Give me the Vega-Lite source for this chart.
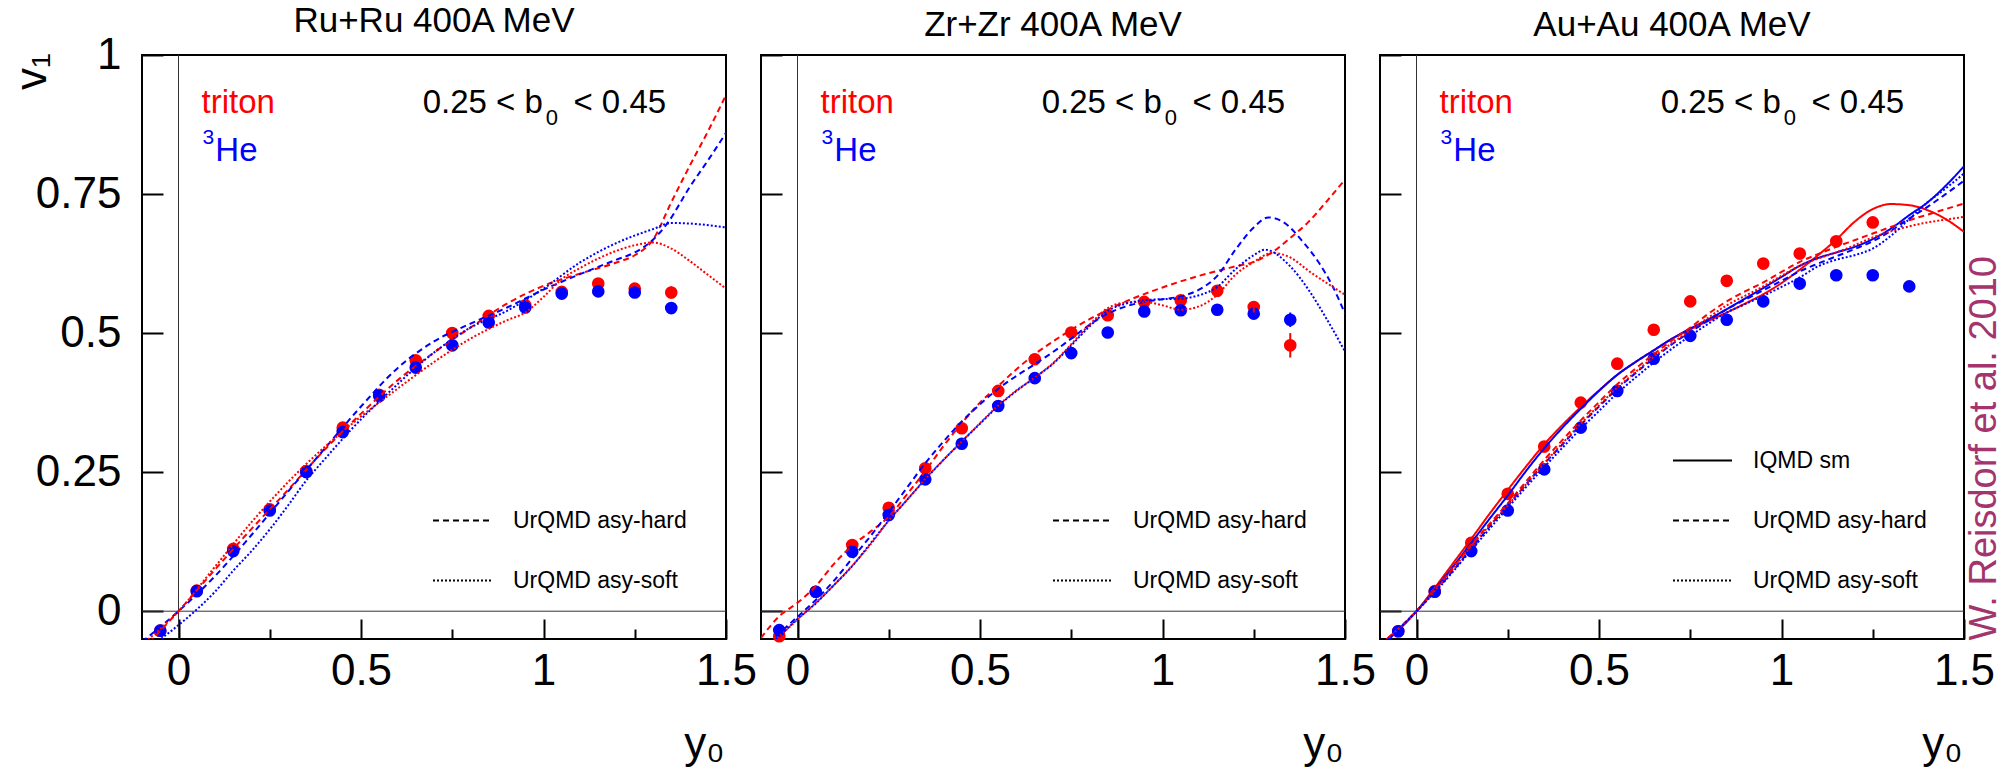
{
"$schema": "https://vega.github.io/schema/vega-lite/v6.json",
"background": "white",
"padding": {"left": 9, "top": 3, "right": 0, "bottom": 0},
"spacing": 35,
"bounds": "flush",
"datasets": {
"pts": [
{"sys":"Ru","ion":"triton","y0":-0.05,"v1":-0.035},{"sys":"Ru","ion":"triton","y0":0.05,"v1":0.037},{"sys":"Ru","ion":"triton","y0":0.15,"v1":0.112},{"sys":"Ru","ion":"triton","y0":0.25,"v1":0.183},{"sys":"Ru","ion":"triton","y0":0.35,"v1":0.252},{"sys":"Ru","ion":"triton","y0":0.45,"v1":0.33},{"sys":"Ru","ion":"triton","y0":0.55,"v1":0.389},{"sys":"Ru","ion":"triton","y0":0.65,"v1":0.451},{"sys":"Ru","ion":"triton","y0":0.75,"v1":0.5},{"sys":"Ru","ion":"triton","y0":0.85,"v1":0.531},{"sys":"Ru","ion":"triton","y0":0.95,"v1":0.55},{"sys":"Ru","ion":"triton","y0":1.05,"v1":0.574},{"sys":"Ru","ion":"triton","y0":1.15,"v1":0.589},{"sys":"Ru","ion":"triton","y0":1.25,"v1":0.58},{"sys":"Ru","ion":"triton","y0":1.35,"v1":0.573,"lo":0.562,"hi":0.584},
{"sys":"Ru","ion":"3He","y0":-0.05,"v1":-0.035},{"sys":"Ru","ion":"3He","y0":0.05,"v1":0.036},{"sys":"Ru","ion":"3He","y0":0.15,"v1":0.108},{"sys":"Ru","ion":"3He","y0":0.25,"v1":0.181},{"sys":"Ru","ion":"3He","y0":0.35,"v1":0.25},{"sys":"Ru","ion":"3He","y0":0.45,"v1":0.322},{"sys":"Ru","ion":"3He","y0":0.55,"v1":0.387},{"sys":"Ru","ion":"3He","y0":0.65,"v1":0.438},{"sys":"Ru","ion":"3He","y0":0.75,"v1":0.478},{"sys":"Ru","ion":"3He","y0":0.85,"v1":0.519},{"sys":"Ru","ion":"3He","y0":0.95,"v1":0.546},{"sys":"Ru","ion":"3He","y0":1.05,"v1":0.571},{"sys":"Ru","ion":"3He","y0":1.15,"v1":0.575},{"sys":"Ru","ion":"3He","y0":1.25,"v1":0.573},{"sys":"Ru","ion":"3He","y0":1.35,"v1":0.545,"lo":0.535,"hi":0.555},
{"sys":"Zr","ion":"triton","y0":-0.05,"v1":-0.045},{"sys":"Zr","ion":"triton","y0":0.05,"v1":0.035},{"sys":"Zr","ion":"triton","y0":0.15,"v1":0.119},{"sys":"Zr","ion":"triton","y0":0.25,"v1":0.186},{"sys":"Zr","ion":"triton","y0":0.35,"v1":0.257},{"sys":"Zr","ion":"triton","y0":0.45,"v1":0.329},{"sys":"Zr","ion":"triton","y0":0.55,"v1":0.396},{"sys":"Zr","ion":"triton","y0":0.65,"v1":0.453},{"sys":"Zr","ion":"triton","y0":0.75,"v1":0.501},{"sys":"Zr","ion":"triton","y0":0.85,"v1":0.532},{"sys":"Zr","ion":"triton","y0":0.95,"v1":0.556},{"sys":"Zr","ion":"triton","y0":1.05,"v1":0.559},{"sys":"Zr","ion":"triton","y0":1.15,"v1":0.576},{"sys":"Zr","ion":"triton","y0":1.25,"v1":0.547,"lo":0.537,"hi":0.557},{"sys":"Zr","ion":"triton","y0":1.35,"v1":0.478,"lo":0.456,"hi":0.5},
{"sys":"Zr","ion":"3He","y0":-0.05,"v1":-0.034},{"sys":"Zr","ion":"3He","y0":0.05,"v1":0.035},{"sys":"Zr","ion":"3He","y0":0.15,"v1":0.107},{"sys":"Zr","ion":"3He","y0":0.25,"v1":0.173},{"sys":"Zr","ion":"3He","y0":0.35,"v1":0.237},{"sys":"Zr","ion":"3He","y0":0.45,"v1":0.301},{"sys":"Zr","ion":"3He","y0":0.55,"v1":0.369},{"sys":"Zr","ion":"3He","y0":0.65,"v1":0.419},{"sys":"Zr","ion":"3He","y0":0.75,"v1":0.464},{"sys":"Zr","ion":"3He","y0":0.85,"v1":0.501},{"sys":"Zr","ion":"3He","y0":0.95,"v1":0.539},{"sys":"Zr","ion":"3He","y0":1.05,"v1":0.541},{"sys":"Zr","ion":"3He","y0":1.15,"v1":0.542},{"sys":"Zr","ion":"3He","y0":1.25,"v1":0.535},{"sys":"Zr","ion":"3He","y0":1.35,"v1":0.524,"lo":0.511,"hi":0.537},
{"sys":"Au","ion":"triton","y0":-0.05,"v1":-0.036},{"sys":"Au","ion":"triton","y0":0.05,"v1":0.036},{"sys":"Au","ion":"triton","y0":0.15,"v1":0.123},{"sys":"Au","ion":"triton","y0":0.25,"v1":0.211},{"sys":"Au","ion":"triton","y0":0.35,"v1":0.296},{"sys":"Au","ion":"triton","y0":0.45,"v1":0.375},{"sys":"Au","ion":"triton","y0":0.55,"v1":0.445},{"sys":"Au","ion":"triton","y0":0.65,"v1":0.506},{"sys":"Au","ion":"triton","y0":0.75,"v1":0.557},{"sys":"Au","ion":"triton","y0":0.85,"v1":0.594},{"sys":"Au","ion":"triton","y0":0.95,"v1":0.625},{"sys":"Au","ion":"triton","y0":1.05,"v1":0.643},{"sys":"Au","ion":"triton","y0":1.15,"v1":0.665},{"sys":"Au","ion":"triton","y0":1.25,"v1":0.699},
{"sys":"Au","ion":"3He","y0":-0.05,"v1":-0.036},{"sys":"Au","ion":"3He","y0":0.05,"v1":0.035},{"sys":"Au","ion":"3He","y0":0.15,"v1":0.108},{"sys":"Au","ion":"3He","y0":0.25,"v1":0.181},{"sys":"Au","ion":"3He","y0":0.35,"v1":0.255},{"sys":"Au","ion":"3He","y0":0.45,"v1":0.33},{"sys":"Au","ion":"3He","y0":0.55,"v1":0.396},{"sys":"Au","ion":"3He","y0":0.65,"v1":0.454},{"sys":"Au","ion":"3He","y0":0.75,"v1":0.495},{"sys":"Au","ion":"3He","y0":0.85,"v1":0.524},{"sys":"Au","ion":"3He","y0":0.95,"v1":0.557},{"sys":"Au","ion":"3He","y0":1.05,"v1":0.589},{"sys":"Au","ion":"3He","y0":1.15,"v1":0.604},{"sys":"Au","ion":"3He","y0":1.25,"v1":0.604},{"sys":"Au","ion":"3He","y0":1.35,"v1":0.584}
],
"crv": [
{"sys":"Ru","ion":"triton","model":"UrQMD asy-hard","y0":-0.1,"v1":-0.07},{"sys":"Ru","ion":"triton","model":"UrQMD asy-hard","y0":0,"v1":0},{"sys":"Ru","ion":"triton","model":"UrQMD asy-hard","y0":0.1,"v1":0.075},{"sys":"Ru","ion":"triton","model":"UrQMD asy-hard","y0":0.2,"v1":0.148},{"sys":"Ru","ion":"triton","model":"UrQMD asy-hard","y0":0.3,"v1":0.218},{"sys":"Ru","ion":"triton","model":"UrQMD asy-hard","y0":0.4,"v1":0.29},{"sys":"Ru","ion":"triton","model":"UrQMD asy-hard","y0":0.5,"v1":0.355},{"sys":"Ru","ion":"triton","model":"UrQMD asy-hard","y0":0.6,"v1":0.415},{"sys":"Ru","ion":"triton","model":"UrQMD asy-hard","y0":0.7,"v1":0.465},{"sys":"Ru","ion":"triton","model":"UrQMD asy-hard","y0":0.8,"v1":0.51},{"sys":"Ru","ion":"triton","model":"UrQMD asy-hard","y0":0.9,"v1":0.553},{"sys":"Ru","ion":"triton","model":"UrQMD asy-hard","y0":1.0,"v1":0.585},{"sys":"Ru","ion":"triton","model":"UrQMD asy-hard","y0":1.1,"v1":0.607},{"sys":"Ru","ion":"triton","model":"UrQMD asy-hard","y0":1.2,"v1":0.627},{"sys":"Ru","ion":"triton","model":"UrQMD asy-hard","y0":1.25,"v1":0.64},{"sys":"Ru","ion":"triton","model":"UrQMD asy-hard","y0":1.3,"v1":0.668},{"sys":"Ru","ion":"triton","model":"UrQMD asy-hard","y0":1.35,"v1":0.735},{"sys":"Ru","ion":"triton","model":"UrQMD asy-hard","y0":1.4,"v1":0.8},{"sys":"Ru","ion":"triton","model":"UrQMD asy-hard","y0":1.45,"v1":0.862},{"sys":"Ru","ion":"triton","model":"UrQMD asy-hard","y0":1.5,"v1":0.928},
{"sys":"Ru","ion":"3He","model":"UrQMD asy-hard","y0":-0.1,"v1":-0.055},{"sys":"Ru","ion":"3He","model":"UrQMD asy-hard","y0":0,"v1":0},{"sys":"Ru","ion":"3He","model":"UrQMD asy-hard","y0":0.1,"v1":0.063},{"sys":"Ru","ion":"3He","model":"UrQMD asy-hard","y0":0.2,"v1":0.137},{"sys":"Ru","ion":"3He","model":"UrQMD asy-hard","y0":0.3,"v1":0.215},{"sys":"Ru","ion":"3He","model":"UrQMD asy-hard","y0":0.4,"v1":0.292},{"sys":"Ru","ion":"3He","model":"UrQMD asy-hard","y0":0.5,"v1":0.368},{"sys":"Ru","ion":"3He","model":"UrQMD asy-hard","y0":0.6,"v1":0.437},{"sys":"Ru","ion":"3He","model":"UrQMD asy-hard","y0":0.7,"v1":0.485},{"sys":"Ru","ion":"3He","model":"UrQMD asy-hard","y0":0.8,"v1":0.517},{"sys":"Ru","ion":"3He","model":"UrQMD asy-hard","y0":0.9,"v1":0.546},{"sys":"Ru","ion":"3He","model":"UrQMD asy-hard","y0":1.0,"v1":0.578},{"sys":"Ru","ion":"3He","model":"UrQMD asy-hard","y0":1.1,"v1":0.606},{"sys":"Ru","ion":"3He","model":"UrQMD asy-hard","y0":1.2,"v1":0.632},{"sys":"Ru","ion":"3He","model":"UrQMD asy-hard","y0":1.25,"v1":0.645},{"sys":"Ru","ion":"3He","model":"UrQMD asy-hard","y0":1.3,"v1":0.668},{"sys":"Ru","ion":"3He","model":"UrQMD asy-hard","y0":1.34,"v1":0.698},{"sys":"Ru","ion":"3He","model":"UrQMD asy-hard","y0":1.4,"v1":0.762},{"sys":"Ru","ion":"3He","model":"UrQMD asy-hard","y0":1.45,"v1":0.81},{"sys":"Ru","ion":"3He","model":"UrQMD asy-hard","y0":1.5,"v1":0.86},
{"sys":"Ru","ion":"triton","model":"UrQMD asy-soft","y0":-0.1,"v1":-0.06},{"sys":"Ru","ion":"triton","model":"UrQMD asy-soft","y0":0,"v1":0},{"sys":"Ru","ion":"triton","model":"UrQMD asy-soft","y0":0.1,"v1":0.08},{"sys":"Ru","ion":"triton","model":"UrQMD asy-soft","y0":0.2,"v1":0.16},{"sys":"Ru","ion":"triton","model":"UrQMD asy-soft","y0":0.3,"v1":0.232},{"sys":"Ru","ion":"triton","model":"UrQMD asy-soft","y0":0.4,"v1":0.295},{"sys":"Ru","ion":"triton","model":"UrQMD asy-soft","y0":0.5,"v1":0.35},{"sys":"Ru","ion":"triton","model":"UrQMD asy-soft","y0":0.6,"v1":0.4},{"sys":"Ru","ion":"triton","model":"UrQMD asy-soft","y0":0.7,"v1":0.448},{"sys":"Ru","ion":"triton","model":"UrQMD asy-soft","y0":0.8,"v1":0.49},{"sys":"Ru","ion":"triton","model":"UrQMD asy-soft","y0":0.9,"v1":0.523},{"sys":"Ru","ion":"triton","model":"UrQMD asy-soft","y0":0.95,"v1":0.537},{"sys":"Ru","ion":"triton","model":"UrQMD asy-soft","y0":1.0,"v1":0.565},{"sys":"Ru","ion":"triton","model":"UrQMD asy-soft","y0":1.05,"v1":0.597},{"sys":"Ru","ion":"triton","model":"UrQMD asy-soft","y0":1.1,"v1":0.617},{"sys":"Ru","ion":"triton","model":"UrQMD asy-soft","y0":1.15,"v1":0.634},{"sys":"Ru","ion":"triton","model":"UrQMD asy-soft","y0":1.2,"v1":0.648},{"sys":"Ru","ion":"triton","model":"UrQMD asy-soft","y0":1.25,"v1":0.658},{"sys":"Ru","ion":"triton","model":"UrQMD asy-soft","y0":1.3,"v1":0.663},{"sys":"Ru","ion":"triton","model":"UrQMD asy-soft","y0":1.35,"v1":0.652},{"sys":"Ru","ion":"triton","model":"UrQMD asy-soft","y0":1.4,"v1":0.63},{"sys":"Ru","ion":"triton","model":"UrQMD asy-soft","y0":1.45,"v1":0.605},{"sys":"Ru","ion":"triton","model":"UrQMD asy-soft","y0":1.5,"v1":0.58},
{"sys":"Ru","ion":"3He","model":"UrQMD asy-soft","y0":-0.1,"v1":-0.075},{"sys":"Ru","ion":"3He","model":"UrQMD asy-soft","y0":0,"v1":-0.025},{"sys":"Ru","ion":"3He","model":"UrQMD asy-soft","y0":0.05,"v1":0.003},{"sys":"Ru","ion":"3He","model":"UrQMD asy-soft","y0":0.1,"v1":0.035},{"sys":"Ru","ion":"3He","model":"UrQMD asy-soft","y0":0.15,"v1":0.073},{"sys":"Ru","ion":"3He","model":"UrQMD asy-soft","y0":0.2,"v1":0.108},{"sys":"Ru","ion":"3He","model":"UrQMD asy-soft","y0":0.25,"v1":0.147},{"sys":"Ru","ion":"3He","model":"UrQMD asy-soft","y0":0.3,"v1":0.19},{"sys":"Ru","ion":"3He","model":"UrQMD asy-soft","y0":0.35,"v1":0.235},{"sys":"Ru","ion":"3He","model":"UrQMD asy-soft","y0":0.4,"v1":0.273},{"sys":"Ru","ion":"3He","model":"UrQMD asy-soft","y0":0.45,"v1":0.31},{"sys":"Ru","ion":"3He","model":"UrQMD asy-soft","y0":0.5,"v1":0.345},{"sys":"Ru","ion":"3He","model":"UrQMD asy-soft","y0":0.55,"v1":0.377},{"sys":"Ru","ion":"3He","model":"UrQMD asy-soft","y0":0.6,"v1":0.408},{"sys":"Ru","ion":"3He","model":"UrQMD asy-soft","y0":0.65,"v1":0.438},{"sys":"Ru","ion":"3He","model":"UrQMD asy-soft","y0":0.7,"v1":0.465},{"sys":"Ru","ion":"3He","model":"UrQMD asy-soft","y0":0.8,"v1":0.51},{"sys":"Ru","ion":"3He","model":"UrQMD asy-soft","y0":0.9,"v1":0.54},{"sys":"Ru","ion":"3He","model":"UrQMD asy-soft","y0":1.0,"v1":0.58},{"sys":"Ru","ion":"3He","model":"UrQMD asy-soft","y0":1.1,"v1":0.627},{"sys":"Ru","ion":"3He","model":"UrQMD asy-soft","y0":1.2,"v1":0.662},{"sys":"Ru","ion":"3He","model":"UrQMD asy-soft","y0":1.3,"v1":0.687},{"sys":"Ru","ion":"3He","model":"UrQMD asy-soft","y0":1.35,"v1":0.698},{"sys":"Ru","ion":"3He","model":"UrQMD asy-soft","y0":1.4,"v1":0.697},{"sys":"Ru","ion":"3He","model":"UrQMD asy-soft","y0":1.5,"v1":0.69},
{"sys":"Zr","ion":"triton","model":"UrQMD asy-hard","y0":-0.1,"v1":-0.048},{"sys":"Zr","ion":"triton","model":"UrQMD asy-hard","y0":-0.05,"v1":-0.009},{"sys":"Zr","ion":"triton","model":"UrQMD asy-hard","y0":0,"v1":0.015},{"sys":"Zr","ion":"triton","model":"UrQMD asy-hard","y0":0.05,"v1":0.045},{"sys":"Zr","ion":"triton","model":"UrQMD asy-hard","y0":0.1,"v1":0.085},{"sys":"Zr","ion":"triton","model":"UrQMD asy-hard","y0":0.15,"v1":0.118},{"sys":"Zr","ion":"triton","model":"UrQMD asy-hard","y0":0.2,"v1":0.143},{"sys":"Zr","ion":"triton","model":"UrQMD asy-hard","y0":0.25,"v1":0.17},{"sys":"Zr","ion":"triton","model":"UrQMD asy-hard","y0":0.3,"v1":0.21},{"sys":"Zr","ion":"triton","model":"UrQMD asy-hard","y0":0.35,"v1":0.252},{"sys":"Zr","ion":"triton","model":"UrQMD asy-hard","y0":0.4,"v1":0.297},{"sys":"Zr","ion":"triton","model":"UrQMD asy-hard","y0":0.45,"v1":0.338},{"sys":"Zr","ion":"triton","model":"UrQMD asy-hard","y0":0.5,"v1":0.375},{"sys":"Zr","ion":"triton","model":"UrQMD asy-hard","y0":0.55,"v1":0.405},{"sys":"Zr","ion":"triton","model":"UrQMD asy-hard","y0":0.6,"v1":0.435},{"sys":"Zr","ion":"triton","model":"UrQMD asy-hard","y0":0.65,"v1":0.462},{"sys":"Zr","ion":"triton","model":"UrQMD asy-hard","y0":0.7,"v1":0.485},{"sys":"Zr","ion":"triton","model":"UrQMD asy-hard","y0":0.8,"v1":0.525},{"sys":"Zr","ion":"triton","model":"UrQMD asy-hard","y0":0.9,"v1":0.557},{"sys":"Zr","ion":"triton","model":"UrQMD asy-hard","y0":1.0,"v1":0.582},{"sys":"Zr","ion":"triton","model":"UrQMD asy-hard","y0":1.1,"v1":0.603},{"sys":"Zr","ion":"triton","model":"UrQMD asy-hard","y0":1.2,"v1":0.62},{"sys":"Zr","ion":"triton","model":"UrQMD asy-hard","y0":1.25,"v1":0.628},{"sys":"Zr","ion":"triton","model":"UrQMD asy-hard","y0":1.3,"v1":0.645},{"sys":"Zr","ion":"triton","model":"UrQMD asy-hard","y0":1.35,"v1":0.671},{"sys":"Zr","ion":"triton","model":"UrQMD asy-hard","y0":1.4,"v1":0.7},{"sys":"Zr","ion":"triton","model":"UrQMD asy-hard","y0":1.45,"v1":0.737},{"sys":"Zr","ion":"triton","model":"UrQMD asy-hard","y0":1.5,"v1":0.776},
{"sys":"Zr","ion":"3He","model":"UrQMD asy-hard","y0":-0.1,"v1":-0.07},{"sys":"Zr","ion":"3He","model":"UrQMD asy-hard","y0":-0.05,"v1":-0.04},{"sys":"Zr","ion":"3He","model":"UrQMD asy-hard","y0":0,"v1":-0.01},{"sys":"Zr","ion":"3He","model":"UrQMD asy-hard","y0":0.05,"v1":0.02},{"sys":"Zr","ion":"3He","model":"UrQMD asy-hard","y0":0.1,"v1":0.055},{"sys":"Zr","ion":"3He","model":"UrQMD asy-hard","y0":0.15,"v1":0.095},{"sys":"Zr","ion":"3He","model":"UrQMD asy-hard","y0":0.2,"v1":0.135},{"sys":"Zr","ion":"3He","model":"UrQMD asy-hard","y0":0.25,"v1":0.178},{"sys":"Zr","ion":"3He","model":"UrQMD asy-hard","y0":0.3,"v1":0.222},{"sys":"Zr","ion":"3He","model":"UrQMD asy-hard","y0":0.35,"v1":0.266},{"sys":"Zr","ion":"3He","model":"UrQMD asy-hard","y0":0.4,"v1":0.305},{"sys":"Zr","ion":"3He","model":"UrQMD asy-hard","y0":0.45,"v1":0.341},{"sys":"Zr","ion":"3He","model":"UrQMD asy-hard","y0":0.5,"v1":0.372},{"sys":"Zr","ion":"3He","model":"UrQMD asy-hard","y0":0.55,"v1":0.4},{"sys":"Zr","ion":"3He","model":"UrQMD asy-hard","y0":0.6,"v1":0.423},{"sys":"Zr","ion":"3He","model":"UrQMD asy-hard","y0":0.65,"v1":0.444},{"sys":"Zr","ion":"3He","model":"UrQMD asy-hard","y0":0.7,"v1":0.466},{"sys":"Zr","ion":"3He","model":"UrQMD asy-hard","y0":0.75,"v1":0.49},{"sys":"Zr","ion":"3He","model":"UrQMD asy-hard","y0":0.8,"v1":0.515},{"sys":"Zr","ion":"3He","model":"UrQMD asy-hard","y0":0.85,"v1":0.535},{"sys":"Zr","ion":"3He","model":"UrQMD asy-hard","y0":0.9,"v1":0.548},{"sys":"Zr","ion":"3He","model":"UrQMD asy-hard","y0":0.95,"v1":0.556},{"sys":"Zr","ion":"3He","model":"UrQMD asy-hard","y0":1.0,"v1":0.561},{"sys":"Zr","ion":"3He","model":"UrQMD asy-hard","y0":1.05,"v1":0.566},{"sys":"Zr","ion":"3He","model":"UrQMD asy-hard","y0":1.1,"v1":0.578},{"sys":"Zr","ion":"3He","model":"UrQMD asy-hard","y0":1.15,"v1":0.603},{"sys":"Zr","ion":"3He","model":"UrQMD asy-hard","y0":1.2,"v1":0.65},{"sys":"Zr","ion":"3He","model":"UrQMD asy-hard","y0":1.25,"v1":0.69},{"sys":"Zr","ion":"3He","model":"UrQMD asy-hard","y0":1.29,"v1":0.708},{"sys":"Zr","ion":"3He","model":"UrQMD asy-hard","y0":1.33,"v1":0.7},{"sys":"Zr","ion":"3He","model":"UrQMD asy-hard","y0":1.385,"v1":0.664},{"sys":"Zr","ion":"3He","model":"UrQMD asy-hard","y0":1.43,"v1":0.625},{"sys":"Zr","ion":"3He","model":"UrQMD asy-hard","y0":1.467,"v1":0.583},{"sys":"Zr","ion":"3He","model":"UrQMD asy-hard","y0":1.5,"v1":0.535},
{"sys":"Zr","ion":"triton","model":"UrQMD asy-soft","y0":-0.1,"v1":-0.07},{"sys":"Zr","ion":"triton","model":"UrQMD asy-soft","y0":-0.05,"v1":-0.045},{"sys":"Zr","ion":"triton","model":"UrQMD asy-soft","y0":0,"v1":-0.015},{"sys":"Zr","ion":"triton","model":"UrQMD asy-soft","y0":0.05,"v1":0.015},{"sys":"Zr","ion":"triton","model":"UrQMD asy-soft","y0":0.1,"v1":0.047},{"sys":"Zr","ion":"triton","model":"UrQMD asy-soft","y0":0.15,"v1":0.082},{"sys":"Zr","ion":"triton","model":"UrQMD asy-soft","y0":0.2,"v1":0.12},{"sys":"Zr","ion":"triton","model":"UrQMD asy-soft","y0":0.25,"v1":0.163},{"sys":"Zr","ion":"triton","model":"UrQMD asy-soft","y0":0.3,"v1":0.2},{"sys":"Zr","ion":"triton","model":"UrQMD asy-soft","y0":0.35,"v1":0.238},{"sys":"Zr","ion":"triton","model":"UrQMD asy-soft","y0":0.4,"v1":0.272},{"sys":"Zr","ion":"triton","model":"UrQMD asy-soft","y0":0.45,"v1":0.305},{"sys":"Zr","ion":"triton","model":"UrQMD asy-soft","y0":0.5,"v1":0.338},{"sys":"Zr","ion":"triton","model":"UrQMD asy-soft","y0":0.55,"v1":0.37},{"sys":"Zr","ion":"triton","model":"UrQMD asy-soft","y0":0.6,"v1":0.397},{"sys":"Zr","ion":"triton","model":"UrQMD asy-soft","y0":0.65,"v1":0.42},{"sys":"Zr","ion":"triton","model":"UrQMD asy-soft","y0":0.7,"v1":0.446},{"sys":"Zr","ion":"triton","model":"UrQMD asy-soft","y0":0.75,"v1":0.48},{"sys":"Zr","ion":"triton","model":"UrQMD asy-soft","y0":0.8,"v1":0.515},{"sys":"Zr","ion":"triton","model":"UrQMD asy-soft","y0":0.85,"v1":0.545},{"sys":"Zr","ion":"triton","model":"UrQMD asy-soft","y0":0.9,"v1":0.555},{"sys":"Zr","ion":"triton","model":"UrQMD asy-soft","y0":0.95,"v1":0.556},{"sys":"Zr","ion":"triton","model":"UrQMD asy-soft","y0":1.0,"v1":0.55},{"sys":"Zr","ion":"triton","model":"UrQMD asy-soft","y0":1.05,"v1":0.542},{"sys":"Zr","ion":"triton","model":"UrQMD asy-soft","y0":1.1,"v1":0.548},{"sys":"Zr","ion":"triton","model":"UrQMD asy-soft","y0":1.15,"v1":0.569},{"sys":"Zr","ion":"triton","model":"UrQMD asy-soft","y0":1.2,"v1":0.605},{"sys":"Zr","ion":"triton","model":"UrQMD asy-soft","y0":1.25,"v1":0.628},{"sys":"Zr","ion":"triton","model":"UrQMD asy-soft","y0":1.3,"v1":0.644},{"sys":"Zr","ion":"triton","model":"UrQMD asy-soft","y0":1.35,"v1":0.636},{"sys":"Zr","ion":"triton","model":"UrQMD asy-soft","y0":1.4,"v1":0.612},{"sys":"Zr","ion":"triton","model":"UrQMD asy-soft","y0":1.45,"v1":0.59},{"sys":"Zr","ion":"triton","model":"UrQMD asy-soft","y0":1.5,"v1":0.569},
{"sys":"Zr","ion":"3He","model":"UrQMD asy-soft","y0":-0.1,"v1":-0.075},{"sys":"Zr","ion":"3He","model":"UrQMD asy-soft","y0":-0.05,"v1":-0.045},{"sys":"Zr","ion":"3He","model":"UrQMD asy-soft","y0":0,"v1":-0.014},{"sys":"Zr","ion":"3He","model":"UrQMD asy-soft","y0":0.05,"v1":0.014},{"sys":"Zr","ion":"3He","model":"UrQMD asy-soft","y0":0.1,"v1":0.047},{"sys":"Zr","ion":"3He","model":"UrQMD asy-soft","y0":0.15,"v1":0.081},{"sys":"Zr","ion":"3He","model":"UrQMD asy-soft","y0":0.2,"v1":0.122},{"sys":"Zr","ion":"3He","model":"UrQMD asy-soft","y0":0.25,"v1":0.163},{"sys":"Zr","ion":"3He","model":"UrQMD asy-soft","y0":0.3,"v1":0.2},{"sys":"Zr","ion":"3He","model":"UrQMD asy-soft","y0":0.35,"v1":0.237},{"sys":"Zr","ion":"3He","model":"UrQMD asy-soft","y0":0.4,"v1":0.272},{"sys":"Zr","ion":"3He","model":"UrQMD asy-soft","y0":0.45,"v1":0.305},{"sys":"Zr","ion":"3He","model":"UrQMD asy-soft","y0":0.5,"v1":0.337},{"sys":"Zr","ion":"3He","model":"UrQMD asy-soft","y0":0.55,"v1":0.369},{"sys":"Zr","ion":"3He","model":"UrQMD asy-soft","y0":0.6,"v1":0.396},{"sys":"Zr","ion":"3He","model":"UrQMD asy-soft","y0":0.65,"v1":0.42},{"sys":"Zr","ion":"3He","model":"UrQMD asy-soft","y0":0.7,"v1":0.445},{"sys":"Zr","ion":"3He","model":"UrQMD asy-soft","y0":0.75,"v1":0.478},{"sys":"Zr","ion":"3He","model":"UrQMD asy-soft","y0":0.8,"v1":0.512},{"sys":"Zr","ion":"3He","model":"UrQMD asy-soft","y0":0.85,"v1":0.54},{"sys":"Zr","ion":"3He","model":"UrQMD asy-soft","y0":0.9,"v1":0.553},{"sys":"Zr","ion":"3He","model":"UrQMD asy-soft","y0":0.95,"v1":0.559},{"sys":"Zr","ion":"3He","model":"UrQMD asy-soft","y0":1.0,"v1":0.561},{"sys":"Zr","ion":"3He","model":"UrQMD asy-soft","y0":1.05,"v1":0.562},{"sys":"Zr","ion":"3He","model":"UrQMD asy-soft","y0":1.1,"v1":0.568},{"sys":"Zr","ion":"3He","model":"UrQMD asy-soft","y0":1.15,"v1":0.583},{"sys":"Zr","ion":"3He","model":"UrQMD asy-soft","y0":1.2,"v1":0.615},{"sys":"Zr","ion":"3He","model":"UrQMD asy-soft","y0":1.25,"v1":0.64},{"sys":"Zr","ion":"3He","model":"UrQMD asy-soft","y0":1.28,"v1":0.65},{"sys":"Zr","ion":"3He","model":"UrQMD asy-soft","y0":1.35,"v1":0.62},{"sys":"Zr","ion":"3He","model":"UrQMD asy-soft","y0":1.4,"v1":0.578},{"sys":"Zr","ion":"3He","model":"UrQMD asy-soft","y0":1.45,"v1":0.525},{"sys":"Zr","ion":"3He","model":"UrQMD asy-soft","y0":1.5,"v1":0.467},
{"sys":"Au","ion":"triton","model":"IQMD sm","y0":-0.1,"v1":-0.06},{"sys":"Au","ion":"triton","model":"IQMD sm","y0":0,"v1":0},{"sys":"Au","ion":"triton","model":"IQMD sm","y0":0.05,"v1":0.042},{"sys":"Au","ion":"triton","model":"IQMD sm","y0":0.1,"v1":0.086},{"sys":"Au","ion":"triton","model":"IQMD sm","y0":0.15,"v1":0.13},{"sys":"Au","ion":"triton","model":"IQMD sm","y0":0.2,"v1":0.175},{"sys":"Au","ion":"triton","model":"IQMD sm","y0":0.25,"v1":0.218},{"sys":"Au","ion":"triton","model":"IQMD sm","y0":0.3,"v1":0.26},{"sys":"Au","ion":"triton","model":"IQMD sm","y0":0.35,"v1":0.3},{"sys":"Au","ion":"triton","model":"IQMD sm","y0":0.4,"v1":0.335},{"sys":"Au","ion":"triton","model":"IQMD sm","y0":0.45,"v1":0.367},{"sys":"Au","ion":"triton","model":"IQMD sm","y0":0.5,"v1":0.397},{"sys":"Au","ion":"triton","model":"IQMD sm","y0":0.55,"v1":0.425},{"sys":"Au","ion":"triton","model":"IQMD sm","y0":0.6,"v1":0.448},{"sys":"Au","ion":"triton","model":"IQMD sm","y0":0.65,"v1":0.469},{"sys":"Au","ion":"triton","model":"IQMD sm","y0":0.7,"v1":0.49},{"sys":"Au","ion":"triton","model":"IQMD sm","y0":0.75,"v1":0.507},{"sys":"Au","ion":"triton","model":"IQMD sm","y0":0.8,"v1":0.522},{"sys":"Au","ion":"triton","model":"IQMD sm","y0":0.85,"v1":0.537},{"sys":"Au","ion":"triton","model":"IQMD sm","y0":0.9,"v1":0.553},{"sys":"Au","ion":"triton","model":"IQMD sm","y0":0.95,"v1":0.57},{"sys":"Au","ion":"triton","model":"IQMD sm","y0":1.0,"v1":0.59},{"sys":"Au","ion":"triton","model":"IQMD sm","y0":1.05,"v1":0.614},{"sys":"Au","ion":"triton","model":"IQMD sm","y0":1.1,"v1":0.64},{"sys":"Au","ion":"triton","model":"IQMD sm","y0":1.15,"v1":0.668},{"sys":"Au","ion":"triton","model":"IQMD sm","y0":1.2,"v1":0.7},{"sys":"Au","ion":"triton","model":"IQMD sm","y0":1.25,"v1":0.723},{"sys":"Au","ion":"triton","model":"IQMD sm","y0":1.3,"v1":0.732},{"sys":"Au","ion":"triton","model":"IQMD sm","y0":1.35,"v1":0.73},{"sys":"Au","ion":"triton","model":"IQMD sm","y0":1.4,"v1":0.721},{"sys":"Au","ion":"triton","model":"IQMD sm","y0":1.45,"v1":0.705},{"sys":"Au","ion":"triton","model":"IQMD sm","y0":1.5,"v1":0.682},
{"sys":"Au","ion":"3He","model":"IQMD sm","y0":-0.1,"v1":-0.065},{"sys":"Au","ion":"3He","model":"IQMD sm","y0":0,"v1":0},{"sys":"Au","ion":"3He","model":"IQMD sm","y0":0.05,"v1":0.039},{"sys":"Au","ion":"3He","model":"IQMD sm","y0":0.1,"v1":0.08},{"sys":"Au","ion":"3He","model":"IQMD sm","y0":0.15,"v1":0.123},{"sys":"Au","ion":"3He","model":"IQMD sm","y0":0.2,"v1":0.166},{"sys":"Au","ion":"3He","model":"IQMD sm","y0":0.25,"v1":0.208},{"sys":"Au","ion":"3He","model":"IQMD sm","y0":0.3,"v1":0.252},{"sys":"Au","ion":"3He","model":"IQMD sm","y0":0.35,"v1":0.293},{"sys":"Au","ion":"3He","model":"IQMD sm","y0":0.4,"v1":0.33},{"sys":"Au","ion":"3He","model":"IQMD sm","y0":0.45,"v1":0.364},{"sys":"Au","ion":"3He","model":"IQMD sm","y0":0.5,"v1":0.396},{"sys":"Au","ion":"3He","model":"IQMD sm","y0":0.55,"v1":0.425},{"sys":"Au","ion":"3He","model":"IQMD sm","y0":0.6,"v1":0.448},{"sys":"Au","ion":"3He","model":"IQMD sm","y0":0.65,"v1":0.469},{"sys":"Au","ion":"3He","model":"IQMD sm","y0":0.7,"v1":0.49},{"sys":"Au","ion":"3He","model":"IQMD sm","y0":0.75,"v1":0.508},{"sys":"Au","ion":"3He","model":"IQMD sm","y0":0.8,"v1":0.525},{"sys":"Au","ion":"3He","model":"IQMD sm","y0":0.85,"v1":0.543},{"sys":"Au","ion":"3He","model":"IQMD sm","y0":0.9,"v1":0.562},{"sys":"Au","ion":"3He","model":"IQMD sm","y0":0.95,"v1":0.581},{"sys":"Au","ion":"3He","model":"IQMD sm","y0":1.0,"v1":0.601},{"sys":"Au","ion":"3He","model":"IQMD sm","y0":1.05,"v1":0.621},{"sys":"Au","ion":"3He","model":"IQMD sm","y0":1.1,"v1":0.635},{"sys":"Au","ion":"3He","model":"IQMD sm","y0":1.15,"v1":0.645},{"sys":"Au","ion":"3He","model":"IQMD sm","y0":1.2,"v1":0.655},{"sys":"Au","ion":"3He","model":"IQMD sm","y0":1.25,"v1":0.669},{"sys":"Au","ion":"3He","model":"IQMD sm","y0":1.3,"v1":0.688},{"sys":"Au","ion":"3He","model":"IQMD sm","y0":1.35,"v1":0.712},{"sys":"Au","ion":"3He","model":"IQMD sm","y0":1.4,"v1":0.735},{"sys":"Au","ion":"3He","model":"IQMD sm","y0":1.45,"v1":0.765},{"sys":"Au","ion":"3He","model":"IQMD sm","y0":1.5,"v1":0.8},
{"sys":"Au","ion":"triton","model":"UrQMD asy-hard","y0":-0.1,"v1":-0.06},{"sys":"Au","ion":"triton","model":"UrQMD asy-hard","y0":0,"v1":0},{"sys":"Au","ion":"triton","model":"UrQMD asy-hard","y0":0.05,"v1":0.038},{"sys":"Au","ion":"triton","model":"UrQMD asy-hard","y0":0.1,"v1":0.078},{"sys":"Au","ion":"triton","model":"UrQMD asy-hard","y0":0.15,"v1":0.12},{"sys":"Au","ion":"triton","model":"UrQMD asy-hard","y0":0.2,"v1":0.157},{"sys":"Au","ion":"triton","model":"UrQMD asy-hard","y0":0.25,"v1":0.194},{"sys":"Au","ion":"triton","model":"UrQMD asy-hard","y0":0.3,"v1":0.233},{"sys":"Au","ion":"triton","model":"UrQMD asy-hard","y0":0.35,"v1":0.272},{"sys":"Au","ion":"triton","model":"UrQMD asy-hard","y0":0.4,"v1":0.308},{"sys":"Au","ion":"triton","model":"UrQMD asy-hard","y0":0.45,"v1":0.343},{"sys":"Au","ion":"triton","model":"UrQMD asy-hard","y0":0.5,"v1":0.376},{"sys":"Au","ion":"triton","model":"UrQMD asy-hard","y0":0.55,"v1":0.408},{"sys":"Au","ion":"triton","model":"UrQMD asy-hard","y0":0.6,"v1":0.436},{"sys":"Au","ion":"triton","model":"UrQMD asy-hard","y0":0.65,"v1":0.462},{"sys":"Au","ion":"triton","model":"UrQMD asy-hard","y0":0.7,"v1":0.487},{"sys":"Au","ion":"triton","model":"UrQMD asy-hard","y0":0.75,"v1":0.51},{"sys":"Au","ion":"triton","model":"UrQMD asy-hard","y0":0.8,"v1":0.535},{"sys":"Au","ion":"triton","model":"UrQMD asy-hard","y0":0.85,"v1":0.557},{"sys":"Au","ion":"triton","model":"UrQMD asy-hard","y0":0.9,"v1":0.575},{"sys":"Au","ion":"triton","model":"UrQMD asy-hard","y0":0.95,"v1":0.591},{"sys":"Au","ion":"triton","model":"UrQMD asy-hard","y0":1.0,"v1":0.61},{"sys":"Au","ion":"triton","model":"UrQMD asy-hard","y0":1.05,"v1":0.628},{"sys":"Au","ion":"triton","model":"UrQMD asy-hard","y0":1.1,"v1":0.642},{"sys":"Au","ion":"triton","model":"UrQMD asy-hard","y0":1.15,"v1":0.655},{"sys":"Au","ion":"triton","model":"UrQMD asy-hard","y0":1.2,"v1":0.667},{"sys":"Au","ion":"triton","model":"UrQMD asy-hard","y0":1.25,"v1":0.679},{"sys":"Au","ion":"triton","model":"UrQMD asy-hard","y0":1.3,"v1":0.691},{"sys":"Au","ion":"triton","model":"UrQMD asy-hard","y0":1.35,"v1":0.703},{"sys":"Au","ion":"triton","model":"UrQMD asy-hard","y0":1.4,"v1":0.713},{"sys":"Au","ion":"triton","model":"UrQMD asy-hard","y0":1.45,"v1":0.723},{"sys":"Au","ion":"triton","model":"UrQMD asy-hard","y0":1.5,"v1":0.733},
{"sys":"Au","ion":"3He","model":"UrQMD asy-hard","y0":-0.1,"v1":-0.065},{"sys":"Au","ion":"3He","model":"UrQMD asy-hard","y0":0,"v1":0},{"sys":"Au","ion":"3He","model":"UrQMD asy-hard","y0":0.05,"v1":0.035},{"sys":"Au","ion":"3He","model":"UrQMD asy-hard","y0":0.1,"v1":0.073},{"sys":"Au","ion":"3He","model":"UrQMD asy-hard","y0":0.15,"v1":0.113},{"sys":"Au","ion":"3He","model":"UrQMD asy-hard","y0":0.2,"v1":0.152},{"sys":"Au","ion":"3He","model":"UrQMD asy-hard","y0":0.25,"v1":0.19},{"sys":"Au","ion":"3He","model":"UrQMD asy-hard","y0":0.3,"v1":0.228},{"sys":"Au","ion":"3He","model":"UrQMD asy-hard","y0":0.35,"v1":0.265},{"sys":"Au","ion":"3He","model":"UrQMD asy-hard","y0":0.4,"v1":0.3},{"sys":"Au","ion":"3He","model":"UrQMD asy-hard","y0":0.45,"v1":0.335},{"sys":"Au","ion":"3He","model":"UrQMD asy-hard","y0":0.5,"v1":0.368},{"sys":"Au","ion":"3He","model":"UrQMD asy-hard","y0":0.55,"v1":0.4},{"sys":"Au","ion":"3He","model":"UrQMD asy-hard","y0":0.6,"v1":0.428},{"sys":"Au","ion":"3He","model":"UrQMD asy-hard","y0":0.65,"v1":0.455},{"sys":"Au","ion":"3He","model":"UrQMD asy-hard","y0":0.7,"v1":0.48},{"sys":"Au","ion":"3He","model":"UrQMD asy-hard","y0":0.75,"v1":0.502},{"sys":"Au","ion":"3He","model":"UrQMD asy-hard","y0":0.8,"v1":0.523},{"sys":"Au","ion":"3He","model":"UrQMD asy-hard","y0":0.85,"v1":0.543},{"sys":"Au","ion":"3He","model":"UrQMD asy-hard","y0":0.9,"v1":0.56},{"sys":"Au","ion":"3He","model":"UrQMD asy-hard","y0":0.95,"v1":0.577},{"sys":"Au","ion":"3He","model":"UrQMD asy-hard","y0":1.0,"v1":0.594},{"sys":"Au","ion":"3He","model":"UrQMD asy-hard","y0":1.05,"v1":0.611},{"sys":"Au","ion":"3He","model":"UrQMD asy-hard","y0":1.1,"v1":0.625},{"sys":"Au","ion":"3He","model":"UrQMD asy-hard","y0":1.15,"v1":0.638},{"sys":"Au","ion":"3He","model":"UrQMD asy-hard","y0":1.2,"v1":0.651},{"sys":"Au","ion":"3He","model":"UrQMD asy-hard","y0":1.25,"v1":0.665},{"sys":"Au","ion":"3He","model":"UrQMD asy-hard","y0":1.3,"v1":0.684},{"sys":"Au","ion":"3He","model":"UrQMD asy-hard","y0":1.35,"v1":0.706},{"sys":"Au","ion":"3He","model":"UrQMD asy-hard","y0":1.4,"v1":0.727},{"sys":"Au","ion":"3He","model":"UrQMD asy-hard","y0":1.45,"v1":0.75},{"sys":"Au","ion":"3He","model":"UrQMD asy-hard","y0":1.5,"v1":0.774},
{"sys":"Au","ion":"triton","model":"UrQMD asy-soft","y0":-0.1,"v1":-0.062},{"sys":"Au","ion":"triton","model":"UrQMD asy-soft","y0":0,"v1":0},{"sys":"Au","ion":"triton","model":"UrQMD asy-soft","y0":0.05,"v1":0.037},{"sys":"Au","ion":"triton","model":"UrQMD asy-soft","y0":0.1,"v1":0.076},{"sys":"Au","ion":"triton","model":"UrQMD asy-soft","y0":0.15,"v1":0.117},{"sys":"Au","ion":"triton","model":"UrQMD asy-soft","y0":0.2,"v1":0.154},{"sys":"Au","ion":"triton","model":"UrQMD asy-soft","y0":0.25,"v1":0.19},{"sys":"Au","ion":"triton","model":"UrQMD asy-soft","y0":0.3,"v1":0.228},{"sys":"Au","ion":"triton","model":"UrQMD asy-soft","y0":0.35,"v1":0.266},{"sys":"Au","ion":"triton","model":"UrQMD asy-soft","y0":0.4,"v1":0.302},{"sys":"Au","ion":"triton","model":"UrQMD asy-soft","y0":0.45,"v1":0.337},{"sys":"Au","ion":"triton","model":"UrQMD asy-soft","y0":0.5,"v1":0.37},{"sys":"Au","ion":"triton","model":"UrQMD asy-soft","y0":0.55,"v1":0.402},{"sys":"Au","ion":"triton","model":"UrQMD asy-soft","y0":0.6,"v1":0.43},{"sys":"Au","ion":"triton","model":"UrQMD asy-soft","y0":0.65,"v1":0.457},{"sys":"Au","ion":"triton","model":"UrQMD asy-soft","y0":0.7,"v1":0.482},{"sys":"Au","ion":"triton","model":"UrQMD asy-soft","y0":0.75,"v1":0.505},{"sys":"Au","ion":"triton","model":"UrQMD asy-soft","y0":0.8,"v1":0.528},{"sys":"Au","ion":"triton","model":"UrQMD asy-soft","y0":0.85,"v1":0.55},{"sys":"Au","ion":"triton","model":"UrQMD asy-soft","y0":0.9,"v1":0.567},{"sys":"Au","ion":"triton","model":"UrQMD asy-soft","y0":0.95,"v1":0.584},{"sys":"Au","ion":"triton","model":"UrQMD asy-soft","y0":1.0,"v1":0.603},{"sys":"Au","ion":"triton","model":"UrQMD asy-soft","y0":1.05,"v1":0.621},{"sys":"Au","ion":"triton","model":"UrQMD asy-soft","y0":1.1,"v1":0.634},{"sys":"Au","ion":"triton","model":"UrQMD asy-soft","y0":1.15,"v1":0.645},{"sys":"Au","ion":"triton","model":"UrQMD asy-soft","y0":1.2,"v1":0.658},{"sys":"Au","ion":"triton","model":"UrQMD asy-soft","y0":1.25,"v1":0.672},{"sys":"Au","ion":"triton","model":"UrQMD asy-soft","y0":1.3,"v1":0.683},{"sys":"Au","ion":"triton","model":"UrQMD asy-soft","y0":1.35,"v1":0.692},{"sys":"Au","ion":"triton","model":"UrQMD asy-soft","y0":1.4,"v1":0.699},{"sys":"Au","ion":"triton","model":"UrQMD asy-soft","y0":1.45,"v1":0.704},{"sys":"Au","ion":"triton","model":"UrQMD asy-soft","y0":1.5,"v1":0.709},
{"sys":"Au","ion":"3He","model":"UrQMD asy-soft","y0":-0.1,"v1":-0.066},{"sys":"Au","ion":"3He","model":"UrQMD asy-soft","y0":0,"v1":0},{"sys":"Au","ion":"3He","model":"UrQMD asy-soft","y0":0.05,"v1":0.034},{"sys":"Au","ion":"3He","model":"UrQMD asy-soft","y0":0.1,"v1":0.071},{"sys":"Au","ion":"3He","model":"UrQMD asy-soft","y0":0.15,"v1":0.11},{"sys":"Au","ion":"3He","model":"UrQMD asy-soft","y0":0.2,"v1":0.148},{"sys":"Au","ion":"3He","model":"UrQMD asy-soft","y0":0.25,"v1":0.186},{"sys":"Au","ion":"3He","model":"UrQMD asy-soft","y0":0.3,"v1":0.223},{"sys":"Au","ion":"3He","model":"UrQMD asy-soft","y0":0.35,"v1":0.259},{"sys":"Au","ion":"3He","model":"UrQMD asy-soft","y0":0.4,"v1":0.294},{"sys":"Au","ion":"3He","model":"UrQMD asy-soft","y0":0.45,"v1":0.328},{"sys":"Au","ion":"3He","model":"UrQMD asy-soft","y0":0.5,"v1":0.36},{"sys":"Au","ion":"3He","model":"UrQMD asy-soft","y0":0.55,"v1":0.392},{"sys":"Au","ion":"3He","model":"UrQMD asy-soft","y0":0.6,"v1":0.42},{"sys":"Au","ion":"3He","model":"UrQMD asy-soft","y0":0.65,"v1":0.447},{"sys":"Au","ion":"3He","model":"UrQMD asy-soft","y0":0.7,"v1":0.472},{"sys":"Au","ion":"3He","model":"UrQMD asy-soft","y0":0.75,"v1":0.495},{"sys":"Au","ion":"3He","model":"UrQMD asy-soft","y0":0.8,"v1":0.517},{"sys":"Au","ion":"3He","model":"UrQMD asy-soft","y0":0.85,"v1":0.537},{"sys":"Au","ion":"3He","model":"UrQMD asy-soft","y0":0.9,"v1":0.552},{"sys":"Au","ion":"3He","model":"UrQMD asy-soft","y0":0.95,"v1":0.567},{"sys":"Au","ion":"3He","model":"UrQMD asy-soft","y0":1.0,"v1":0.583},{"sys":"Au","ion":"3He","model":"UrQMD asy-soft","y0":1.05,"v1":0.6},{"sys":"Au","ion":"3He","model":"UrQMD asy-soft","y0":1.1,"v1":0.62},{"sys":"Au","ion":"3He","model":"UrQMD asy-soft","y0":1.15,"v1":0.632},{"sys":"Au","ion":"3He","model":"UrQMD asy-soft","y0":1.2,"v1":0.64},{"sys":"Au","ion":"3He","model":"UrQMD asy-soft","y0":1.25,"v1":0.652},{"sys":"Au","ion":"3He","model":"UrQMD asy-soft","y0":1.3,"v1":0.675},{"sys":"Au","ion":"3He","model":"UrQMD asy-soft","y0":1.35,"v1":0.705},{"sys":"Au","ion":"3He","model":"UrQMD asy-soft","y0":1.4,"v1":0.735},{"sys":"Au","ion":"3He","model":"UrQMD asy-soft","y0":1.45,"v1":0.76},{"sys":"Au","ion":"3He","model":"UrQMD asy-soft","y0":1.5,"v1":0.787}
],
"one": [{"k": 1}]
},
"hconcat": [
{
"width": 584, "height": 584,
"title": {"text": "Ru+Ru 400A MeV", "offset": -6},
"layer": [
{"data": {"name": "one"}, "mark": {"type": "rule", "color": "#333", "strokeWidth": 1}, "encoding": {"x": {"datum": 0, "type": "quantitative"}}},
{"data": {"name": "one"}, "mark": {"type": "rule", "color": "#333", "strokeWidth": 1}, "encoding": {"y": {"datum": 0, "type": "quantitative"}}},
{"data": {"name": "pts"}, "transform": [{"filter": "datum.sys === 'Ru'"}],
 "mark": {"type": "circle", "size": 160, "opacity": 1},
 "encoding": {
  "x": {"field": "y0", "type": "quantitative", "scale": {"domain": [-0.1, 1.5], "nice": false, "zero": false},
   "axis": {"values": [0, 0.25, 0.5, 0.75, 1, 1.25, 1.5], "format": "~g", "labelExpr": "datum.value % 0.5 === 0 ? datum.label : ''",
    "tickSize": {"condition": {"test": "datum.value % 0.5 !== 0", "value": -10}, "value": -20},
    "labelPadding": 30, "labelFlush": false, "labelOverlap": false, "labelFontSize": 44,
    "title": "y₀", "titleFontSize": 44, "titleFontWeight": "normal", "titleAnchor": "end", "titleAlign": "right", "titleBaseline": "alphabetic", "titleX": 582, "titleY": 118}},
  "y": {"field": "v1", "type": "quantitative", "scale": {"domain": [-0.05, 1.0], "nice": false, "zero": false},
   "axis": {"values": [0, 0.25, 0.5, 0.75, 1], "format": "~g", "tickSize": -21, "labelPadding": 42, "labelFontSize": 44, "labelBaseline": "middle",
    "title": "v₁", "titleFontSize": 44, "titleFontWeight": "normal", "titleAngle": -90, "titleAlign": "center", "titleBaseline": "middle", "titleX": -110, "titleY": 16}},
  "color": {"field": "ion", "type": "nominal", "scale": {"domain": ["triton", "3He"], "range": ["#ff0000", "#0000ff"]}, "legend": null}
 }},
{"data": {"name": "pts"}, "transform": [{"filter": "datum.sys === 'Ru' && isValid(datum.lo)"}],
 "mark": {"type": "rule", "strokeWidth": 2},
 "encoding": {"x": {"field": "y0", "type": "quantitative"}, "y": {"field": "lo", "type": "quantitative"}, "y2": {"field": "hi"},
  "color": {"field": "ion", "type": "nominal", "legend": null}}},
{"data": {"name": "crv"}, "transform": [{"filter": "datum.sys === 'Ru'"}],
 "mark": {"type": "line", "strokeWidth": 2, "interpolate": "monotone", "clip": true},
 "encoding": {"x": {"field": "y0", "type": "quantitative"}, "y": {"field": "v1", "type": "quantitative"},
  "color": {"field": "ion", "type": "nominal", "legend": null},
  "strokeDash": {"field": "model", "type": "nominal", "scale": {"domain": ["UrQMD asy-hard", "UrQMD asy-soft"], "range": [[6, 4], [2, 2]]},
   "legend": {"orient": "none", "legendX": 290, "legendY": 435, "title": null, "symbolType": "stroke", "symbolSize": 3481, "symbolStrokeColor": "black", "symbolStrokeWidth": 2, "labelFontSize": 23, "labelOffset": 20, "labelLimit": 0, "rowPadding": 17, "padding": 0}}}},
{"data": {"name": "one"}, "mark": {"type": "text", "align": "left", "baseline": "alphabetic", "fontSize": 33, "color": "#ff0000"}, "encoding": {"text": {"value": "triton"}, "x": {"datum": 0.063, "type": "quantitative"}, "y": {"datum": 0.895, "type": "quantitative"}}},
{"data": {"name": "one"}, "mark": {"type": "text", "align": "left", "baseline": "alphabetic", "fontSize": 21, "color": "#0000ff"}, "encoding": {"text": {"value": "3"}, "x": {"datum": 0.066, "type": "quantitative"}, "y": {"datum": 0.84, "type": "quantitative"}}},
{"data": {"name": "one"}, "mark": {"type": "text", "align": "left", "baseline": "alphabetic", "fontSize": 33, "color": "#0000ff"}, "encoding": {"text": {"value": "He"}, "x": {"datum": 0.101, "type": "quantitative"}, "y": {"datum": 0.809, "type": "quantitative"}}},
{"data": {"name": "one"}, "mark": {"type": "text", "align": "left", "baseline": "alphabetic", "fontSize": 33, "color": "black"}, "encoding": {"text": {"value": "0.25 < b"}, "x": {"datum": 0.669, "type": "quantitative"}, "y": {"datum": 0.895, "type": "quantitative"}}},
{"data": {"name": "one"}, "mark": {"type": "text", "align": "left", "baseline": "alphabetic", "fontSize": 22, "color": "black"}, "encoding": {"text": {"value": "0"}, "x": {"datum": 1.006, "type": "quantitative"}, "y": {"datum": 0.874, "type": "quantitative"}}},
{"data": {"name": "one"}, "mark": {"type": "text", "align": "left", "baseline": "alphabetic", "fontSize": 33, "color": "black"}, "encoding": {"text": {"value": "< 0.45"}, "x": {"datum": 1.082, "type": "quantitative"}, "y": {"datum": 0.895, "type": "quantitative"}}}
]
},
{
"width": 584, "height": 584,
"title": {"text": "Zr+Zr 400A MeV", "offset": 11},
"layer": [
{"data": {"name": "one"}, "mark": {"type": "rule", "color": "#333", "strokeWidth": 1}, "encoding": {"x": {"datum": 0, "type": "quantitative"}}},
{"data": {"name": "one"}, "mark": {"type": "rule", "color": "#333", "strokeWidth": 1}, "encoding": {"y": {"datum": 0, "type": "quantitative"}}},
{"data": {"name": "pts"}, "transform": [{"filter": "datum.sys === 'Zr'"}],
 "mark": {"type": "circle", "size": 160, "opacity": 1},
 "encoding": {
  "x": {"field": "y0", "type": "quantitative", "scale": {"domain": [-0.1, 1.5], "nice": false, "zero": false},
   "axis": {"values": [0, 0.25, 0.5, 0.75, 1, 1.25, 1.5], "format": "~g", "labelExpr": "datum.value % 0.5 === 0 ? datum.label : ''",
    "tickSize": {"condition": {"test": "datum.value % 0.5 !== 0", "value": -10}, "value": -20},
    "labelPadding": 30, "labelFlush": false, "labelOverlap": false, "labelFontSize": 44,
    "title": "y₀", "titleFontSize": 44, "titleFontWeight": "normal", "titleAnchor": "end", "titleAlign": "right", "titleBaseline": "alphabetic", "titleX": 582, "titleY": 118}},
  "y": {"field": "v1", "type": "quantitative", "scale": {"domain": [-0.05, 1.0], "nice": false, "zero": false},
   "axis": {"values": [0, 0.25, 0.5, 0.75, 1], "tickSize": -21, "labels": false, "title": null}},
  "color": {"field": "ion", "type": "nominal", "scale": {"domain": ["triton", "3He"], "range": ["#ff0000", "#0000ff"]}, "legend": null}
 }},
{"data": {"name": "pts"}, "transform": [{"filter": "datum.sys === 'Zr' && isValid(datum.lo)"}],
 "mark": {"type": "rule", "strokeWidth": 2},
 "encoding": {"x": {"field": "y0", "type": "quantitative"}, "y": {"field": "lo", "type": "quantitative"}, "y2": {"field": "hi"},
  "color": {"field": "ion", "type": "nominal", "legend": null}}},
{"data": {"name": "crv"}, "transform": [{"filter": "datum.sys === 'Zr'"}],
 "mark": {"type": "line", "strokeWidth": 2, "interpolate": "monotone", "clip": true},
 "encoding": {"x": {"field": "y0", "type": "quantitative"}, "y": {"field": "v1", "type": "quantitative"},
  "color": {"field": "ion", "type": "nominal", "legend": null},
  "strokeDash": {"field": "model", "type": "nominal", "scale": {"domain": ["UrQMD asy-hard", "UrQMD asy-soft"], "range": [[6, 4], [2, 2]]},
   "legend": {"orient": "none", "legendX": 291, "legendY": 435, "title": null, "symbolType": "stroke", "symbolSize": 3481, "symbolStrokeColor": "black", "symbolStrokeWidth": 2, "labelFontSize": 23, "labelOffset": 20, "labelLimit": 0, "rowPadding": 17, "padding": 0}}}},
{"data": {"name": "one"}, "mark": {"type": "text", "align": "left", "baseline": "alphabetic", "fontSize": 33, "color": "#ff0000"}, "encoding": {"text": {"value": "triton"}, "x": {"datum": 0.063, "type": "quantitative"}, "y": {"datum": 0.895, "type": "quantitative"}}},
{"data": {"name": "one"}, "mark": {"type": "text", "align": "left", "baseline": "alphabetic", "fontSize": 21, "color": "#0000ff"}, "encoding": {"text": {"value": "3"}, "x": {"datum": 0.066, "type": "quantitative"}, "y": {"datum": 0.84, "type": "quantitative"}}},
{"data": {"name": "one"}, "mark": {"type": "text", "align": "left", "baseline": "alphabetic", "fontSize": 33, "color": "#0000ff"}, "encoding": {"text": {"value": "He"}, "x": {"datum": 0.101, "type": "quantitative"}, "y": {"datum": 0.809, "type": "quantitative"}}},
{"data": {"name": "one"}, "mark": {"type": "text", "align": "left", "baseline": "alphabetic", "fontSize": 33, "color": "black"}, "encoding": {"text": {"value": "0.25 < b"}, "x": {"datum": 0.669, "type": "quantitative"}, "y": {"datum": 0.895, "type": "quantitative"}}},
{"data": {"name": "one"}, "mark": {"type": "text", "align": "left", "baseline": "alphabetic", "fontSize": 22, "color": "black"}, "encoding": {"text": {"value": "0"}, "x": {"datum": 1.006, "type": "quantitative"}, "y": {"datum": 0.874, "type": "quantitative"}}},
{"data": {"name": "one"}, "mark": {"type": "text", "align": "left", "baseline": "alphabetic", "fontSize": 33, "color": "black"}, "encoding": {"text": {"value": "< 0.45"}, "x": {"datum": 1.082, "type": "quantitative"}, "y": {"datum": 0.895, "type": "quantitative"}}}
]
},
{
"width": 584, "height": 584,
"title": {"text": "Au+Au 400A MeV", "offset": 11},
"layer": [
{"data": {"name": "one"}, "mark": {"type": "rule", "color": "#333", "strokeWidth": 1}, "encoding": {"x": {"datum": 0, "type": "quantitative"}}},
{"data": {"name": "one"}, "mark": {"type": "rule", "color": "#333", "strokeWidth": 1}, "encoding": {"y": {"datum": 0, "type": "quantitative"}}},
{"data": {"name": "pts"}, "transform": [{"filter": "datum.sys === 'Au'"}],
 "mark": {"type": "circle", "size": 160, "opacity": 1},
 "encoding": {
  "x": {"field": "y0", "type": "quantitative", "scale": {"domain": [-0.1, 1.5], "nice": false, "zero": false},
   "axis": {"values": [0, 0.25, 0.5, 0.75, 1, 1.25, 1.5], "format": "~g", "labelExpr": "datum.value % 0.5 === 0 ? datum.label : ''",
    "tickSize": {"condition": {"test": "datum.value % 0.5 !== 0", "value": -10}, "value": -20},
    "labelPadding": 30, "labelFlush": false, "labelOverlap": false, "labelFontSize": 44,
    "title": "y₀", "titleFontSize": 44, "titleFontWeight": "normal", "titleAnchor": "end", "titleAlign": "right", "titleBaseline": "alphabetic", "titleX": 582, "titleY": 118}},
  "y": {"field": "v1", "type": "quantitative", "scale": {"domain": [-0.05, 1.0], "nice": false, "zero": false},
   "axis": {"values": [0, 0.25, 0.5, 0.75, 1], "tickSize": -21, "labels": false, "title": null}},
  "color": {"field": "ion", "type": "nominal", "scale": {"domain": ["triton", "3He"], "range": ["#ff0000", "#0000ff"]}, "legend": null}
 }},
{"data": {"name": "crv"}, "transform": [{"filter": "datum.sys === 'Au'"}],
 "mark": {"type": "line", "strokeWidth": 2, "interpolate": "monotone", "clip": true},
 "encoding": {"x": {"field": "y0", "type": "quantitative"}, "y": {"field": "v1", "type": "quantitative"},
  "color": {"field": "ion", "type": "nominal", "legend": null},
  "strokeDash": {"field": "model", "type": "nominal", "scale": {"domain": ["IQMD sm", "UrQMD asy-hard", "UrQMD asy-soft"], "range": [[1, 0], [6, 4], [2, 2]]},
   "legend": {"orient": "none", "legendX": 292, "legendY": 375, "title": null, "symbolType": "stroke", "symbolSize": 3481, "symbolStrokeColor": "black", "symbolStrokeWidth": 2, "labelFontSize": 23, "labelOffset": 20, "labelLimit": 0, "rowPadding": 17, "padding": 0}}}},
{"data": {"name": "one"}, "mark": {"type": "text", "align": "left", "baseline": "alphabetic", "fontSize": 33, "color": "#ff0000"}, "encoding": {"text": {"value": "triton"}, "x": {"datum": 0.063, "type": "quantitative"}, "y": {"datum": 0.895, "type": "quantitative"}}},
{"data": {"name": "one"}, "mark": {"type": "text", "align": "left", "baseline": "alphabetic", "fontSize": 21, "color": "#0000ff"}, "encoding": {"text": {"value": "3"}, "x": {"datum": 0.066, "type": "quantitative"}, "y": {"datum": 0.84, "type": "quantitative"}}},
{"data": {"name": "one"}, "mark": {"type": "text", "align": "left", "baseline": "alphabetic", "fontSize": 33, "color": "#0000ff"}, "encoding": {"text": {"value": "He"}, "x": {"datum": 0.101, "type": "quantitative"}, "y": {"datum": 0.809, "type": "quantitative"}}},
{"data": {"name": "one"}, "mark": {"type": "text", "align": "left", "baseline": "alphabetic", "fontSize": 33, "color": "black"}, "encoding": {"text": {"value": "0.25 < b"}, "x": {"datum": 0.669, "type": "quantitative"}, "y": {"datum": 0.895, "type": "quantitative"}}},
{"data": {"name": "one"}, "mark": {"type": "text", "align": "left", "baseline": "alphabetic", "fontSize": 22, "color": "black"}, "encoding": {"text": {"value": "0"}, "x": {"datum": 1.006, "type": "quantitative"}, "y": {"datum": 0.874, "type": "quantitative"}}},
{"data": {"name": "one"}, "mark": {"type": "text", "align": "left", "baseline": "alphabetic", "fontSize": 33, "color": "black"}, "encoding": {"text": {"value": "< 0.45"}, "x": {"datum": 1.082, "type": "quantitative"}, "y": {"datum": 0.895, "type": "quantitative"}}},
{"data": {"name": "one"}, "mark": {"type": "text", "angle": 270, "align": "center", "baseline": "middle", "fontSize": 38, "color": "#a4346e", "clip": false}, "encoding": {"text": {"value": "W. Reisdorf et al. 2010"}, "x": {"datum": 1.558, "type": "quantitative"}, "y": {"datum": 0.293, "type": "quantitative"}}}
]
}
],
"resolve": {"scale": {"strokeDash": "independent"}, "legend": {"strokeDash": "independent"}},
"config": {
 "view": {"stroke": "black", "strokeWidth": 2},
 "font": "Liberation Sans",
 "title": {"fontSize": 35, "fontWeight": "normal", "color": "black", "font": "Liberation Sans", "baseline": "alphabetic", "frame": "group"},
 "axis": {"labelFont": "Liberation Sans", "titleFont": "Liberation Sans", "labelColor": "black", "titleColor": "black", "tickColor": "black", "tickWidth": 2, "domain": false, "grid": false},
 "legend": {"labelFont": "Liberation Sans", "labelColor": "black", "labelFontSize": 23},
 "text": {"font": "Liberation Sans"}
}
}
